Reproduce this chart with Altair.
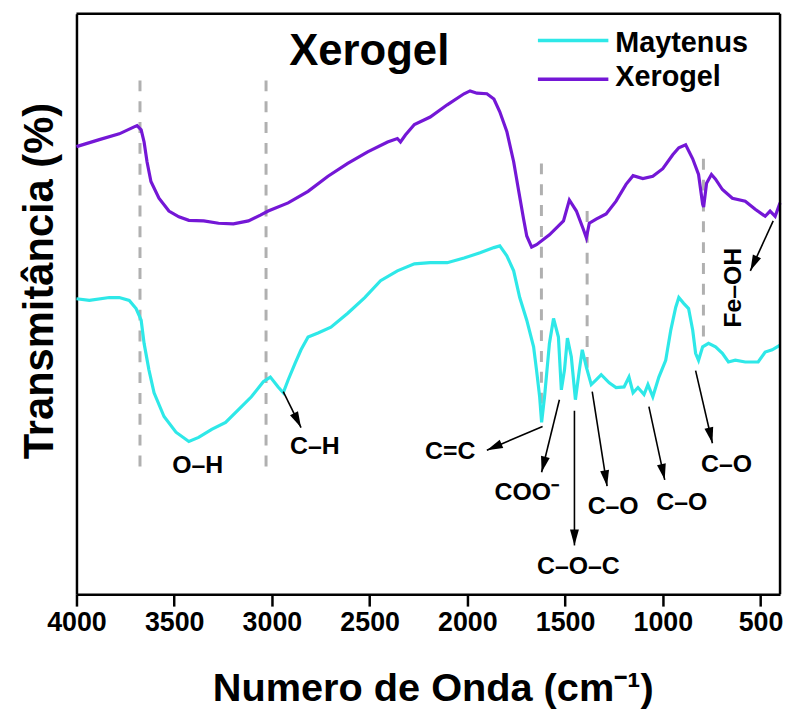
import math
import altair as alt
import pandas as pd

# ---------------- data ----------------
series_names = ["Maytenus", "Xerogel"]
series_colors = ["#2ee8e8", "#7417d6"]

wn_xerogel = [4000, 3883, 3781, 3705, 3690, 3669, 3654, 3639, 3619, 3578, 3527, 3476, 3425,
              3349, 3273, 3197, 3120, 3059, 3019, 2917, 2815, 2713, 2612, 2510, 2408, 2358,
              2342, 2317, 2271, 2190, 2103, 2017, 1986, 1951, 1900, 1864, 1834, 1798, 1763,
              1737, 1712, 1696, 1671, 1646, 1580, 1508, 1478, 1442, 1407, 1391, 1376, 1341,
              1290, 1239, 1188, 1152, 1102, 1051, 1000, 949, 918, 883, 847, 817, 796, 791,
              776, 751, 730, 695, 644, 578, 527, 476, 451, 425, 400]
t_xerogel = [77.1, 78.3, 79.3, 80.5, 80.7, 80.0, 77.9, 74.5, 71.1, 68.2, 66.0, 65.0, 64.4,
             64.3, 63.9, 63.8, 64.3, 65.3, 66.0, 67.4, 69.4, 72.0, 74.2, 76.2, 77.9, 78.5,
             77.9, 79.1, 80.9, 82.2, 84.3, 86.2, 86.7, 86.3, 86.2, 85.3, 83.1, 79.7, 74.5,
             69.4, 64.6, 61.7, 59.8, 60.2, 61.9, 64.3, 67.9, 66.0, 62.9, 61.4, 63.9, 64.6,
             65.5, 67.7, 70.6, 72.1, 71.6, 72.0, 73.3, 75.7, 76.9, 77.4, 75.0, 72.3, 67.2, 66.7,
             70.8, 72.3, 71.5, 69.7, 68.2, 67.7, 66.3, 65.1, 66.0, 65.1, 67.4]

wn_maytenus = [4000, 3934, 3832, 3781, 3730, 3695, 3669, 3654, 3629, 3603, 3552, 3491, 3425,
               3375, 3308, 3237, 3171, 3105, 3044, 3008, 2968, 2942, 2917, 2881, 2851, 2815,
               2764, 2698, 2612, 2525, 2444, 2358, 2271, 2190, 2103, 2017, 1935, 1864, 1834,
               1798, 1763, 1732, 1696, 1661, 1646, 1630, 1620, 1605, 1580, 1559, 1534, 1519,
               1503, 1488, 1468, 1447, 1427, 1412, 1391, 1366, 1341, 1315, 1274, 1239, 1198,
               1173, 1152, 1127, 1096, 1076, 1051, 1020, 985, 959, 934, 918, 893, 868, 847,
               832, 817, 796, 766, 730, 695, 664, 629, 578, 512, 476, 440, 400]
t_maytenus = [50.9, 50.6, 51.1, 51.1, 50.6, 49.2, 47.2, 43.2, 38.6, 34.7, 30.6, 27.9, 26.3,
              27.0, 28.4, 29.6, 31.8, 34.0, 36.6, 37.4, 35.7, 34.7, 36.9, 39.8, 42.1, 44.3,
              45.0, 46.0, 48.4, 51.1, 54.0, 55.7, 56.9, 57.1, 57.1, 57.9, 58.8, 59.7, 60.0,
              58.3, 55.7, 51.1, 47.2, 42.6, 38.6, 34.0, 29.6, 34.0, 43.2, 47.5, 44.3, 35.2,
              38.6, 44.1, 40.9, 33.5, 38.6, 42.1, 39.1, 36.1, 36.9, 37.8, 36.4, 35.6, 35.7,
              37.4, 34.7, 35.6, 34.4, 36.1, 34.0, 37.4, 40.3, 45.5, 49.4, 51.1, 50.1, 49.2, 45.5,
              41.5, 40.3, 42.6, 43.2, 42.6, 41.5, 40.0, 40.3, 40.0, 40.0, 41.7, 42.1, 42.9]

x_ticks = [4000, 3500, 3000, 2500, 2000, 1500, 1000, 500]
x_domain = [400, 4000]
y_domain = [0, 100]

# dashed guide lines at band positions
guide_wn = [3675, 3030, 1621, 1387, 792]
guide_top = [88.5, 88.5, 74.2, 66.0, 75.0]
guide_bottom = [21.0, 21.0, 31.3, 37.4, 42.6]

# band labels
band_labels = ["O–H", "C–H", "C=C", "COO⁻", "C–O–C", "C–O", "C–O", "C–O"]
band_label_wn = [3380, 2780, 2088, 1696, 1432, 1254, 903, 674]
band_label_t = [22.2, 25.6, 24.6, 17.6, 4.8, 15.2, 15.9, 22.4]
feoh_label = ["Fe–OH"]
feoh_wn = [639]
feoh_t = [52.8]

# arrows (start -> tip)
arrow_wn0 = [2942, 1615, 1529, 1452, 1361, 1071, 832, 435]
arrow_t0 = [34.9, 28.9, 33.5, 31.6, 34.9, 32.3, 38.5, 64.3]
arrow_wn1 = [2851, 1900, 1620, 1452, 1285, 990, 746, 552]
arrow_t1 = [28.7, 24.8, 21.0, 8.4, 18.6, 19.7, 26.0, 55.7]

# ---------------- chart ----------------
W, H = 709, 585
FONT = "Liberation Sans"

df = pd.concat([
    pd.DataFrame({"wn": wn_maytenus, "t": t_maytenus, "series": "Maytenus"}),
    pd.DataFrame({"wn": wn_xerogel, "t": t_xerogel, "series": "Xerogel"}),
])

xs = alt.Scale(domain=x_domain, reverse=True, nice=False, zero=False)
ys = alt.Scale(domain=y_domain, nice=False, zero=False)

x_axis = alt.Axis(values=x_ticks, format="d", grid=False,
                  domain=True, domainColor="black", domainWidth=2.5,
                  ticks=True, tickSize=12, tickWidth=2.5, tickColor="black",
                  labelFont=FONT, labelFontSize=27, labelFontWeight="bold",
                  labelColor="black", labelPadding=4, labelFlush=False,
                  title="Numero de Onda (cm⁻¹)", titleFont=FONT, titleFontSize=40,
                  titleFontWeight="bold", titleColor="black",
                  titleBaseline="alphabetic", titleY=107, titleX=359)
y_axis = alt.Axis(labels=False, ticks=False, grid=False,
                  domain=True, domainColor="black", domainWidth=2.5,
                  title="Transmitância (%)", titleFont=FONT, titleFontSize=42,
                  titleFontWeight="bold", titleColor="black",
                  titleBaseline="bottom", titleX=-15, titleY=269, titleAngle=270)

lines = alt.Chart(df).mark_line(strokeWidth=3.2).encode(
    x=alt.X("wn:Q", scale=xs, axis=x_axis),
    y=alt.Y("t:Q", scale=ys, axis=y_axis),
    color=alt.Color("series:N", scale=alt.Scale(domain=series_names, range=series_colors),
                    legend=None),
)

guides_df = pd.DataFrame({"wn": guide_wn, "t": guide_top, "t2": guide_bottom})
guides = alt.Chart(guides_df).mark_rule(color="#b0b0b0", strokeWidth=3,
                                        strokeDash=[11, 10]).encode(
    x="wn:Q", y="t:Q", y2="t2:Q")

arrows_df = pd.DataFrame({"wn": arrow_wn0, "t": arrow_t0, "wn2": arrow_wn1, "t2": arrow_t1})
shafts = alt.Chart(arrows_df).mark_rule(color="black", strokeWidth=1.6).encode(
    x="wn:Q", y="t:Q", x2="wn2:Q", y2="t2:Q")

px_wn = W / (x_domain[1] - x_domain[0])
px_t = H / (y_domain[1] - y_domain[0])
angles = []
for a0, b0, a1, b1 in zip(arrow_wn0, arrow_t0, arrow_wn1, arrow_t1):
    dx = -(a1 - a0) * px_wn
    dy = -(b1 - b0) * px_t
    angles.append(math.degrees(math.atan2(dx, -dy)) % 360)
heads_df = pd.DataFrame({"wn": arrow_wn1, "t": arrow_t1, "angle": angles})
heads = alt.Chart(heads_df).mark_point(
    shape="M0,0L0.9,3.2L-0.9,3.2Z", filled=True, color="black", opacity=1,
    size=100, strokeWidth=0).encode(
    x="wn:Q", y="t:Q", angle=alt.Angle("angle:Q", scale=None))

labels_df = pd.DataFrame({"wn": band_label_wn, "t": band_label_t, "label": band_labels})
labels = alt.Chart(labels_df).mark_text(font=FONT, fontSize=25, fontWeight="bold",
                                        color="black", baseline="middle").encode(
    x="wn:Q", y="t:Q", text="label:N")

feoh_df = pd.DataFrame({"wn": feoh_wn, "t": feoh_t, "label": feoh_label})
feoh = alt.Chart(feoh_df).mark_text(font=FONT, fontSize=25, fontWeight="bold",
                                    color="black", baseline="middle", angle=270).encode(
    x="wn:Q", y="t:Q", text="label:N")

title = alt.Chart(pd.DataFrame({"label": ["Xerogel"]})).mark_text(
    font=FONT, fontSize=44, fontWeight="bold", color="black", baseline="middle").encode(
    x=alt.value(295), y=alt.value(39), text="label:N")

legend_layers = []
for name, col, ly, ty in zip(series_names, series_colors, [27, 66], [30, 64]):
    ldf = pd.DataFrame({"series": [name]})
    legend_layers.append(alt.Chart(ldf).mark_rule(color=col, strokeWidth=3.5).encode(
        x=alt.value(465), x2=alt.value(536), y=alt.value(ly)))
    legend_layers.append(alt.Chart(ldf).mark_text(
        font=FONT, fontSize=29, fontWeight="bold", color="black",
        align="left", baseline="middle").encode(
        x=alt.value(543), y=alt.value(ty), text="series:N"))

# top and right sides of the frame
frame_df = pd.DataFrame({"side": ["top", "right"]})
frame_top = alt.Chart(frame_df.iloc[:1]).mark_rule(color="black", strokeWidth=2.5).encode(
    x=alt.value(0), x2=alt.value(W), y=alt.value(0))
frame_right = alt.Chart(frame_df.iloc[1:]).mark_rule(color="black", strokeWidth=2.5).encode(
    x=alt.value(W), y=alt.value(0), y2=alt.value(H))

chart = alt.layer(guides, lines, shafts, heads, labels, feoh, title, *legend_layers,
                  frame_top, frame_right).properties(
    width=W, height=H,
    background="white",
    autosize=alt.AutoSizeParams(type="none"),
    padding={"left": 69, "top": 3, "right": 5, "bottom": 115},
).configure_view(stroke=None)

chart.save("out.html", embed_options={"renderer": "svg", "actions": False})
